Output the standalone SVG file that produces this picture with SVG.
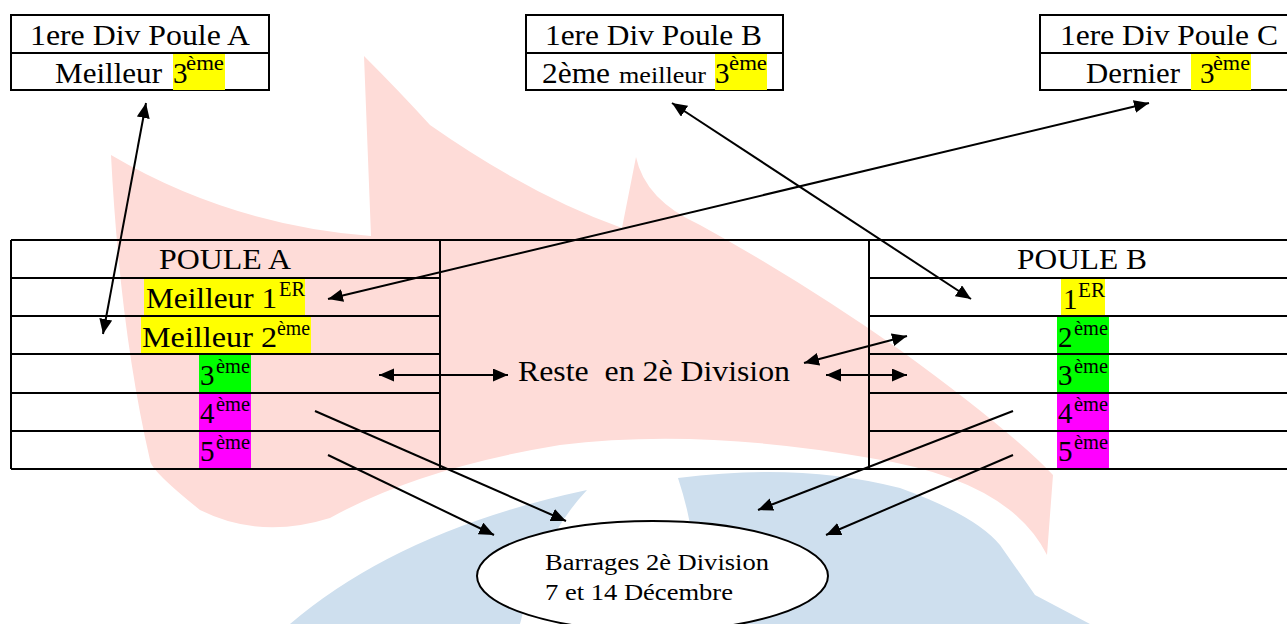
<svg xmlns="http://www.w3.org/2000/svg" width="1287" height="624" viewBox="0 0 1287 624">
<style>
.t{font-family:"Liberation Serif","Times New Roman",serif;fill:#000;font-size:29px}
.s{font-size:20px}
.m{font-size:24px}
.b{font-size:23px}
.ln{stroke:#000;stroke-width:2;fill:none}
.arr{stroke:#000;stroke-width:2;fill:none;marker-end:url(#ah);marker-start:url(#ah)}
.one{stroke:#000;stroke-width:2;fill:none;marker-end:url(#ah)}
.y{fill:#ffff00}.g{fill:#00ff00}.p{fill:#ff00ff}
</style>
<defs>
<marker id="ah" markerUnits="userSpaceOnUse" markerWidth="16" markerHeight="14" refX="15" refY="6.5" orient="auto-start-reverse">
<path d="M0,0 L15,6.5 L0,13 z" fill="#000"/>
</marker>
</defs>
<rect width="1287" height="624" fill="#fff"/>
<g id="background">
<path fill="#fedcd8" d="M111 155 Q230 225 371 236 L364 56 Q400 92 430 125 Q530 195 622 228 L636 157 Q645 200 700 225 Q800 280 900 350 Q1010 430 1053 475 L1047 555 Q1010 480 870 458 Q700 428 560 445 Q420 468 330 518 Q260 540 200 510 Q150 470 150 460 Q120 330 111 155 Z"/>
<path fill="#cedfee" d="M290 624 Q400 530 587 490 Q540 540 520 624 Z"/>
<path fill="#cedfee" d="M678 478 Q800 462 900 488 Q975 515 1000 545 L1035 595 L1090 624 L690 624 Q705 560 678 478 Z"/>
</g>
<g id="node-boxA">
<rect x="11" y="15" width="258" height="75" class="ln"/>
<line x1="11" y1="53" x2="269" y2="53" class="ln"/>
<text class="t" x="30" y="45" textLength="220" lengthAdjust="spacingAndGlyphs">1ere Div Poule A</text>
<text class="t" x="55" y="83" textLength="107" lengthAdjust="spacingAndGlyphs">Meilleur</text>
<rect x="173" y="54" width="52" height="36" class="y"/>
<text class="t" x="173" y="83">3</text>
<text class="t s" x="186" y="70" textLength="38" lengthAdjust="spacingAndGlyphs">ème</text>
</g>
<g id="node-boxB">
<rect x="526" y="15" width="257" height="75" class="ln"/>
<line x1="526" y1="53" x2="783" y2="53" class="ln"/>
<text class="t" x="545" y="45" textLength="217" lengthAdjust="spacingAndGlyphs">1ere Div Poule B</text>
<text class="t" x="542" y="83" textLength="68" lengthAdjust="spacingAndGlyphs">2ème</text>
<text class="t m" x="619" y="83" textLength="87" lengthAdjust="spacingAndGlyphs">meilleur</text>
<rect x="715" y="54" width="52" height="36" class="y"/>
<text class="t" x="715" y="83">3</text>
<text class="t s" x="729" y="70" textLength="38" lengthAdjust="spacingAndGlyphs">ème</text>
</g>
<g id="node-boxC">
<rect x="1040" y="15" width="258" height="75" class="ln"/>
<line x1="1040" y1="53" x2="1298" y2="53" class="ln"/>
<text class="t" x="1060" y="45" textLength="218" lengthAdjust="spacingAndGlyphs">1ere Div Poule C</text>
<text class="t" x="1086" y="83" textLength="94" lengthAdjust="spacingAndGlyphs">Dernier</text>
<rect x="1191" y="54" width="60" height="36" class="y"/>
<text class="t" x="1200" y="83">3</text>
<text class="t s" x="1213" y="70" textLength="37" lengthAdjust="spacingAndGlyphs">ème</text>
</g>
<g id="node-pouleA">
<rect x="144" y="279" width="161" height="36" class="y"/>
<rect x="141" y="317" width="170" height="36" class="y"/>
<rect x="199" y="355" width="52" height="37" class="g"/>
<rect x="199" y="394" width="52" height="37" class="p"/>
<rect x="199" y="432" width="52" height="37" class="p"/>
<path class="ln" d="M11 240 H440 M11 278 H440 M11 316 H440 M11 354 H440 M11 393 H440 M11 431 H440 M11 469 H440 M11 240 V469 M440 240 V469"/>
<text class="t" x="159" y="269" textLength="132" lengthAdjust="spacingAndGlyphs">POULE A</text>
<text class="t" x="146" y="308" textLength="131" lengthAdjust="spacingAndGlyphs">Meilleur 1</text>
<text class="t s" x="279" y="296" textLength="26" lengthAdjust="spacingAndGlyphs">ER</text>
<text class="t" x="142" y="347" textLength="135" lengthAdjust="spacingAndGlyphs">Meilleur 2</text>
<text class="t s" x="277" y="335" textLength="33" lengthAdjust="spacingAndGlyphs">ème</text>
<text class="t" x="200" y="385">3</text>
<text class="t s" x="216" y="373" textLength="34" lengthAdjust="spacingAndGlyphs">ème</text>
<text class="t" x="200" y="423">4</text>
<text class="t s" x="216" y="411" textLength="34" lengthAdjust="spacingAndGlyphs">ème</text>
<text class="t" x="200" y="461">5</text>
<text class="t s" x="216" y="449" textLength="34" lengthAdjust="spacingAndGlyphs">ème</text>
</g>
<g id="node-middle">
<path class="ln" d="M440 240 H869 M440 469 H869"/>
<text class="t" x="518" y="381" textLength="272" lengthAdjust="spacingAndGlyphs" style="white-space:pre">Reste  en 2è Division</text>
</g>
<g id="node-pouleB">
<rect x="1061" y="279" width="44" height="36" class="y"/>
<rect x="1057" y="317" width="52" height="37" class="g"/>
<rect x="1057" y="355" width="52" height="37" class="g"/>
<rect x="1057" y="394" width="52" height="37" class="p"/>
<rect x="1057" y="432" width="52" height="37" class="p"/>
<path class="ln" d="M869 240 H1298 M869 278 H1298 M869 316 H1298 M869 354 H1298 M869 393 H1298 M869 431 H1298 M869 469 H1298 M869 240 V469 M1298 240 V469"/>
<text class="t" x="1017" y="269" textLength="130" lengthAdjust="spacingAndGlyphs">POULE B</text>
<text class="t" x="1063" y="309">1</text>
<text class="t s" x="1078" y="297" textLength="27" lengthAdjust="spacingAndGlyphs">ER</text>
<text class="t" x="1058" y="347">2</text>
<text class="t s" x="1074" y="335" textLength="34" lengthAdjust="spacingAndGlyphs">ème</text>
<text class="t" x="1058" y="385">3</text>
<text class="t s" x="1074" y="373" textLength="34" lengthAdjust="spacingAndGlyphs">ème</text>
<text class="t" x="1058" y="423">4</text>
<text class="t s" x="1074" y="411" textLength="34" lengthAdjust="spacingAndGlyphs">ème</text>
<text class="t" x="1058" y="461">5</text>
<text class="t s" x="1074" y="449" textLength="34" lengthAdjust="spacingAndGlyphs">ème</text>
</g>
<g id="node-barrages">
<ellipse cx="652.5" cy="576" rx="175.5" ry="55" fill="#fff" stroke="#000" stroke-width="2"/>
<text class="t b" x="545" y="570" textLength="224" lengthAdjust="spacingAndGlyphs">Barrages 2è Division</text>
<text class="t b" x="545" y="600" textLength="188" lengthAdjust="spacingAndGlyphs">7 et 14 Décembre</text>
</g>
<g id="connectors">
<line class="arr" x1="103" y1="334" x2="146" y2="103"/>
<line class="arr" x1="971" y1="299" x2="672" y2="103"/>
<line class="arr" x1="328" y1="299" x2="1149" y2="103"/>
<line class="arr" x1="379" y1="375" x2="508" y2="375"/>
<line class="arr" x1="804" y1="363" x2="907" y2="336"/>
<line class="arr" x1="826" y1="375" x2="907" y2="375"/>
<line class="one" x1="315" y1="411" x2="566" y2="521"/>
<line class="one" x1="328" y1="455" x2="494" y2="535"/>
<line class="one" x1="1013" y1="411" x2="758" y2="510"/>
<line class="one" x1="1013" y1="455" x2="826" y2="535"/>
</g>
</svg>
